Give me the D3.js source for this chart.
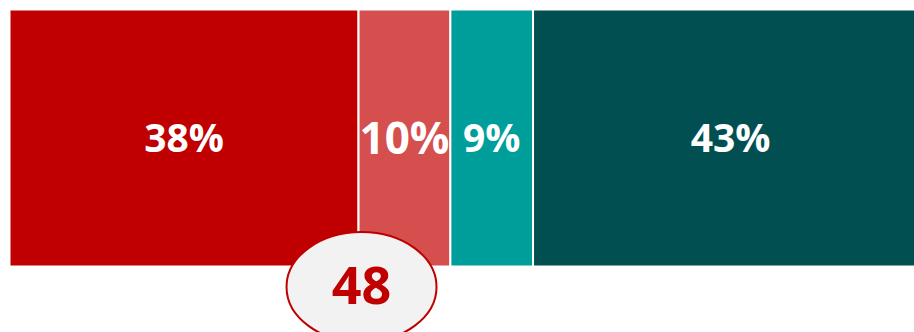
<!DOCTYPE html>
<html><head><meta charset="utf-8">
<script src="https://cdn.jsdelivr.net/npm/d3@7"></script>
<style>html,body{margin:0;padding:0;background:#fff;overflow:hidden}</style>
</head><body>
<svg id="chart" width="914" height="332"></svg>
<script>
const categories = ["A", "B", "C", "D"];
const values = [38, 10, 9, 43];
const labels = ["38%", "10%", "9%", "43%"];
const colors = ["#c00000", "#d54f4f", "#009e9a", "#024f52"];
const badgeValue = ["48"];

const svg = d3.select("#chart");
const x = d3.scaleLinear().domain([0, d3.sum(values)]).range([9.5, 928]);
const y = d3.scaleBand().domain(["row"]).range([9.5, 266.5]).padding(0);

let acc = 0;
const segs = values.map((v, i) => { const s = {v, i, x0: acc, x1: acc + v}; acc += v; return s; });

svg.selectAll("rect.seg").data(segs).join("rect")
  .attr("class", "seg")
  .attr("x", d => x(d.x0))
  .attr("width", d => x(d.x1) - x(d.x0))
  .attr("y", y("row"))
  .attr("height", y.bandwidth())
  .attr("fill", d => colors[d.i])
  .attr("stroke", "#fff").attr("stroke-width", 2);

// the narrow second segment's label is drawn larger in the reference
const labelSize = i => (i === 1 ? 44 : 39);
svg.selectAll("text.lbl").data(segs).join("text")
  .attr("class", "lbl")
  .attr("x", d => (x(d.x0) + x(d.x1)) / 2)
  .attr("y", d => y("row") + y.bandwidth() / 2 + labelSize(d.i) * 0.36)
  .attr("text-anchor", "middle")
  .attr("font-family", "'Open Sans', sans-serif")
  .attr("font-weight", 700)
  .attr("font-size", d => labelSize(d.i))
  .attr("fill", "#fff")
  .text(d => labels[d.i]);

const bx = x(values[0]) + 3;
svg.append("ellipse")
  .attr("cx", bx).attr("cy", 287)
  .attr("rx", 75).attr("ry", 55)
  .attr("fill", "#f2f2f2").attr("stroke", "#c00000").attr("stroke-width", 2);
svg.append("text")
  .attr("x", bx).attr("y", 304)
  .attr("text-anchor", "middle")
  .attr("font-family", "'Open Sans', sans-serif")
  .attr("font-weight", 700)
  .attr("font-size", 52)
  .attr("fill", "#c00000")
  .text(badgeValue[0]);
</script>
</body></html>
